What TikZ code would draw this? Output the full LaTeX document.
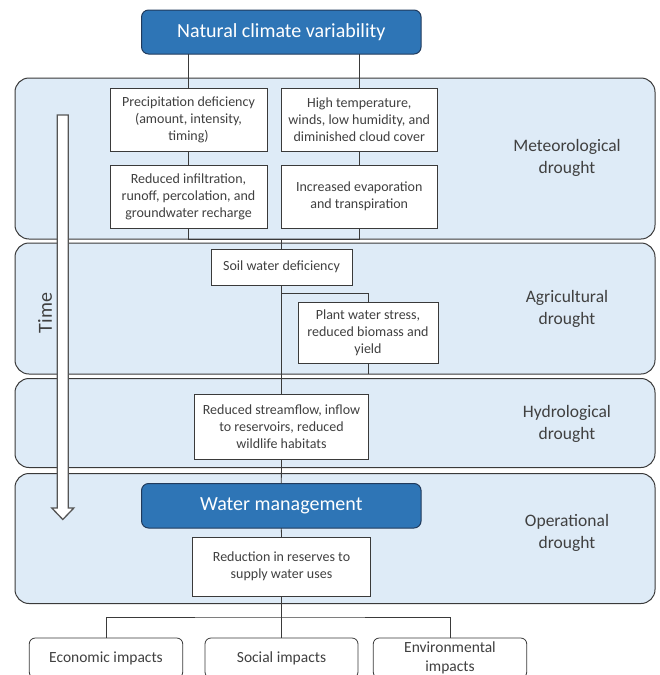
\documentclass[tikz,border=0pt]{standalone}
\usepackage{fontspec}
\setmainfont{Carlito}
\definecolor{dkblue}{HTML}{2E75B6}
\definecolor{dkborder}{HTML}{203A5C}
\definecolor{bandfill}{HTML}{DEEBF7}
\definecolor{txt}{HTML}{404040}
\definecolor{ln}{HTML}{3A3A3A}
\definecolor{arrowln}{HTML}{555555}
\tikzset{
  bandbox/.style={draw=ln, line width=1pt, fill=bandfill, rounded corners=14pt, inner sep=0pt, outer sep=0pt},
  titlebox/.style={draw=dkborder, line width=1pt, fill=dkblue, rounded corners=7pt, text=white,
    font=\fontsize{20}{24}\selectfont, inner sep=0pt, outer sep=0pt},
  whitebox/.style={draw=ln, fill=white, line width=0.8pt, align=center, text=txt,
    font=\fontsize{14}{17}\selectfont, inner sep=0pt, outer sep=0pt},
  impactbox/.style={whitebox, rounded corners=6pt, font=\fontsize{15.5}{19}\selectfont},
  bandlabel/.style={align=center, text=txt, font=\fontsize{17.5}{22}\selectfont},
  conn/.style={draw=ln, line width=0.8pt},
}
\begin{document}
\begin{tikzpicture}[x=1pt,y=-1pt]
\clip (0,0) rectangle (659,675);
\fill[white] (0,0) rectangle (659,675);

% bands
\node[bandbox, minimum width=640pt, minimum height=161pt] (b1) at (335,158.5) {};
\node[bandbox, minimum width=640pt, minimum height=131pt] (b2) at (335,308.5) {};
\node[bandbox, minimum width=640pt, minimum height=89pt]  (b3) at (335,423) {};
\node[bandbox, minimum width=640pt, minimum height=130pt] (b4) at (335,538.5) {};

% band labels
\node[bandlabel] (l1) at (567,158) {Meteorological\\drought};
\node[bandlabel] (l2) at (567,309) {Agricultural\\drought};
\node[bandlabel] (l3) at (567,424) {Hydrological\\drought};
\node[bandlabel] (l4) at (567,533) {Operational\\drought};

% boxes
\node[titlebox, minimum width=279.5pt, minimum height=44pt] (ncv) at (281.3,32) {Natural climate variability};
\node[whitebox, minimum width=157pt, minimum height=63pt] (prec) at (188.5,119.5) {Precipitation deficiency\\(amount, intensity,\\timing)};
\node[whitebox, minimum width=156.5pt, minimum height=63pt] (hight) at (359.25,119.5) {High temperature,\\winds, low humidity, and\\diminished cloud cover};
\node[whitebox, minimum width=157pt, minimum height=63pt] (infil) at (188.5,196.5) {Reduced infiltration,\\runoff, percolation, and\\groundwater recharge};
\node[whitebox, minimum width=156.5pt, minimum height=63pt] (evap) at (359.25,196.5) {Increased evaporation\\and transpiration};
\node[whitebox, minimum width=141pt, minimum height=36pt] (soil) at (281.5,267) {Soil water deficiency};
\node[whitebox, minimum width=140pt, minimum height=61pt] (plant) at (368,332.5) {Plant water stress,\\reduced biomass and\\yield};
\node[whitebox, minimum width=174.5pt, minimum height=65pt] (hydro) at (281.5,426.5) {Reduced streamflow, inflow\\to reservoirs, reduced\\wildlife habitats};
\node[titlebox, minimum width=279.5pt, minimum height=44.5pt] (wm) at (281.3,505.75) {Water management};
\node[whitebox, minimum width=177.5pt, minimum height=59pt] (red) at (281.5,566.5) {Reduction in reserves to\\supply water uses};
\node[impactbox, minimum width=153.5pt, minimum height=40pt] (econ) at (106,658) {Economic impacts};
\node[impactbox, minimum width=153pt, minimum height=40pt] (soc) at (281.5,658) {Social impacts};
\node[impactbox, minimum width=153.5pt, minimum height=40pt, font=\fontsize{15.5}{19}\selectfont] (env) at (450,658) {Environmental\\impacts};

% connectors
\coordinate (br) at (281.5,293);
\coordinate (hub) at (281.5,617);
\begin{scope}[on background layer/.style={}]
\draw[conn] (prec.north) -- (prec.north |- ncv.south);
\draw[conn] (hight.north) -- (hight.north |- ncv.south);
\draw[conn] (prec.south) -- (infil.north);
\draw[conn] (hight.south) -- (evap.north);
\draw[conn] (infil.south) -- (infil.south |- b1.south) -- (evap.south |- b1.south) -- (evap.south);
\draw[conn] (soil.north) -- (soil.north |- b1.south);
\draw[conn] (soil.south) -- (hydro.north);
\draw[conn] (br) -| (plant.north);
\draw[conn] (plant.south) -- (plant.south |- b2.south);
\draw[conn] (hydro.south) -- (wm.north);
\draw[conn] (wm.south) -- (red.north);
\draw[conn] (red.south) -- (hub);
\draw[conn] (econ.north) |- (hub) -| (env.north);
\draw[conn] (hub) -- (soc.north);
\end{scope}

% time arrow
\draw[arrowln, line width=1.3pt, fill=white, line join=miter]
  (57.3,115) -- (68.3,115) -- (68.3,508) -- (73.8,508) -- (62.8,519.5) -- (51.8,508) -- (57.3,508) -- cycle;
\node[rotate=90, text=txt, font=\fontsize{20}{24}\selectfont] (time) at (45,313) {Time};
\end{tikzpicture}
\end{document}
